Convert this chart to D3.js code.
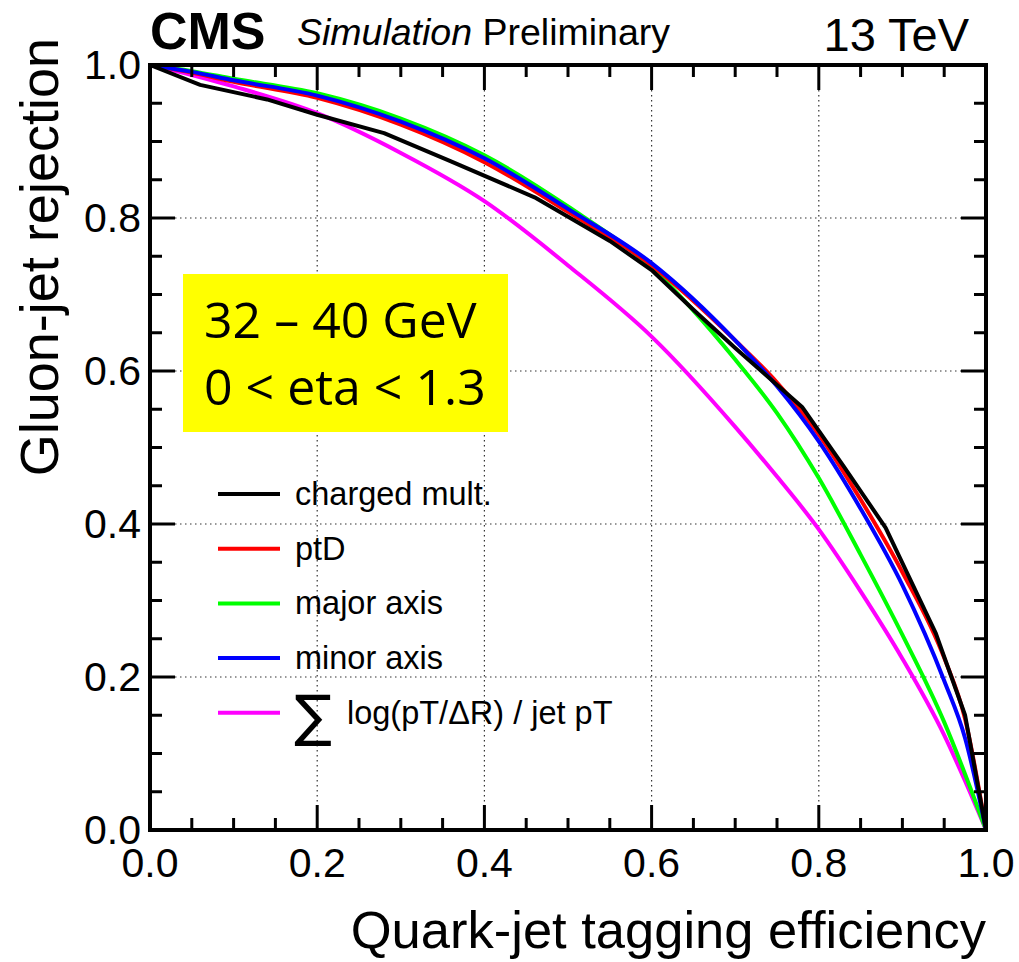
<!DOCTYPE html>
<html>
<head>
<meta charset="utf-8">
<script src="https://cdn.jsdelivr.net/npm/d3@7"></script>
<style>
  body { margin: 0; background: #fff; }
  svg { display: block; font-family: "Liberation Sans", Arial, Helvetica, sans-serif; }
</style>
</head>
<body>
<svg id="chart" width="1019" height="962"></svg>
<script>
// values
const effX = [0, 0.05, 0.1, 0.2, 0.3, 0.4, 0.5, 0.6, 0.7, 0.75, 0.8, 0.85, 0.9, 0.95, 0.975, 1.0];

const chargedX = [0, 0.06, 0.14, 0.2, 0.28, 0.36, 0.46, 0.55, 0.6, 0.65, 0.7, 0.78, 0.83, 0.88, 0.94, 0.975, 1.0];
const chargedY = [1, 0.974, 0.955, 0.935, 0.911, 0.874, 0.827, 0.77, 0.732, 0.68, 0.63, 0.553, 0.475, 0.395, 0.257, 0.15, 0];

const ptdY   = [1, 0.99, 0.978, 0.957, 0.922, 0.873, 0.808, 0.738, 0.64, 0.585, 0.517, 0.432, 0.337, 0.225, 0.145, 0];
const majorY = [1, 0.992, 0.982, 0.963, 0.930, 0.882, 0.815, 0.735, 0.615, 0.545, 0.46, 0.36, 0.255, 0.141, 0.073, 0];
const minorY = [1, 0.991, 0.980, 0.960, 0.926, 0.878, 0.812, 0.741, 0.64, 0.58, 0.508, 0.42, 0.32, 0.195, 0.12, 0];
const sumlogY = [1, 0.987, 0.972, 0.937, 0.885, 0.822, 0.738, 0.645, 0.527, 0.462, 0.393, 0.312, 0.224, 0.124, 0.064, 0];

const seriesNames = ["charged mult.", "ptD", "major axis", "minor axis", "sumlog"];
const seriesColors = ["#000000", "#ff0000", "#00ff00", "#0000ff", "#ff00ff"];

const xTicks = [0, 0.2, 0.4, 0.6, 0.8, 1.0];
const yTicks = [0, 0.2, 0.4, 0.6, 0.8, 1.0];

const svg = d3.select("#chart");

const pLeft = 150, pRight = 986, pTop = 65, pBottom = 830;

const x = d3.scaleLinear().domain([0, 1]).range([pLeft, pRight]);
const y = d3.scaleLinear().domain([0, 1]).range([pBottom, pTop]);

// grid
const grid = svg.append("g")
    .attr("stroke", "#333")
    .attr("stroke-width", 1.2)
    .attr("stroke-dasharray", "1.5,3.5");
xTicks.slice(1, -1).forEach(t => {
    grid.append("line").attr("x1", x(t)).attr("x2", x(t)).attr("y1", pTop).attr("y2", pBottom);
});
yTicks.slice(1, -1).forEach(t => {
    grid.append("line").attr("x1", pLeft).attr("x2", pRight).attr("y1", y(t)).attr("y2", y(t));
});

// curves
const series = [
    { xs: chargedX, ys: chargedY, curve: d3.curveLinear },
    { xs: effX, ys: ptdY, curve: d3.curveMonotoneX },
    { xs: effX, ys: majorY, curve: d3.curveMonotoneX },
    { xs: effX, ys: minorY, curve: d3.curveMonotoneX },
    { xs: effX, ys: sumlogY, curve: d3.curveMonotoneX }
];
// draw order so black sits on top like the reference
const drawOrder = [4, 2, 1, 3, 0];
drawOrder.forEach(i => {
    const s = series[i];
    const pts = s.xs.map((v, k) => [v, s.ys[k]]);
    svg.append("path")
        .attr("d", d3.line().x(d => x(d[0])).y(d => y(d[1])).curve(s.curve)(pts))
        .attr("fill", "none")
        .attr("stroke", seriesColors[i])
        .attr("stroke-width", 4)
        .attr("stroke-linejoin", "round");
});

// axes frame + ticks
const minor = d3.range(0, 1.0001, 0.05);
const axisG = svg.append("g").attr("stroke", "#000");
minor.forEach(t => {
    const isMajor = Math.abs(t * 5 - Math.round(t * 5)) < 1e-6;
    const len = isMajor ? 25 : 12;
    axisG.append("line").attr("x1", x(t)).attr("x2", x(t)).attr("y1", pBottom).attr("y2", pBottom - len).attr("stroke-width", 3);
    axisG.append("line").attr("x1", x(t)).attr("x2", x(t)).attr("y1", pTop).attr("y2", pTop + len).attr("stroke-width", 3);
    axisG.append("line").attr("y1", y(t)).attr("y2", y(t)).attr("x1", pLeft).attr("x2", pLeft + len).attr("stroke-width", 3);
    axisG.append("line").attr("y1", y(t)).attr("y2", y(t)).attr("x1", pRight).attr("x2", pRight - len).attr("stroke-width", 3);
});
svg.append("rect")
    .attr("x", pLeft).attr("y", pTop)
    .attr("width", pRight - pLeft).attr("height", pBottom - pTop)
    .attr("fill", "none").attr("stroke", "#000").attr("stroke-width", 4);

// tick labels
svg.append("g").selectAll("text").data(xTicks).enter().append("text")
    .attr("x", d => x(d)).attr("y", 877)
    .attr("text-anchor", "middle")
    .attr("font-size", 41)
    .text(d => d.toFixed(1));
svg.append("g").selectAll("text").data(yTicks).enter().append("text")
    .attr("x", 141).attr("y", d => y(d) + 14)
    .attr("text-anchor", "end")
    .attr("font-size", 41)
    .text(d => d.toFixed(1));

// axis titles
svg.append("text")
    .attr("x", pRight).attr("y", 948)
    .attr("text-anchor", "end")
    .attr("font-size", 52.5)
    .text("Quark-jet tagging efficiency");
svg.append("text")
    .attr("transform", `translate(58, 38) rotate(-90)`)
    .attr("text-anchor", "end")
    .attr("font-size", 54)
    .text("Gluon-jet rejection");

// header
svg.append("text").attr("x", 150).attr("y", 49)
    .attr("font-size", 52).attr("font-weight", "bold").text("CMS");
const head = svg.append("text").attr("x", 297).attr("y", 45).attr("font-size", 37.5);
head.append("tspan").attr("font-style", "italic").text("Simulation");
head.append("tspan").text(" Preliminary");
svg.append("text").attr("x", 969).attr("y", 51)
    .attr("text-anchor", "end").attr("font-size", 47).text("13 TeV");

// yellow box
svg.append("rect").attr("x", 183).attr("y", 274).attr("width", 325).attr("height", 158).attr("fill", "#ffff00");
const boxText = ["32 \u2013 40 GeV", "0 < eta < 1.3"];
svg.append("g").selectAll("text").data(boxText).enter().append("text")
    .attr("x", 204).attr("y", (d, i) => 338 + i * 67)
    .attr("font-family", "'Open Sans', 'Noto Sans', sans-serif")
    .attr("font-size", 50)
    .text(d => d);

// legend
const leg = svg.append("g");
seriesNames.forEach((name, i) => {
    const ly = 494 + i * 54.7;
    leg.append("line").attr("x1", 218).attr("x2", 280).attr("y1", ly).attr("y2", ly)
        .attr("stroke", seriesColors[i]).attr("stroke-width", 4);
    if (i < 4) {
        leg.append("text").attr("x", 295).attr("y", ly + 11).attr("font-size", 32.5).text(name);
    } else {
        leg.append("text").attr("x", 294).attr("y", ly + 22).attr("font-size", 56).attr("font-family", "'DejaVu Sans', sans-serif").text("\u2211");
        leg.append("text").attr("x", 347).attr("y", ly + 11).attr("font-size", 32.5).text("log(pT/\u0394R) / jet pT");
    }
});
</script>
</body>
</html>
